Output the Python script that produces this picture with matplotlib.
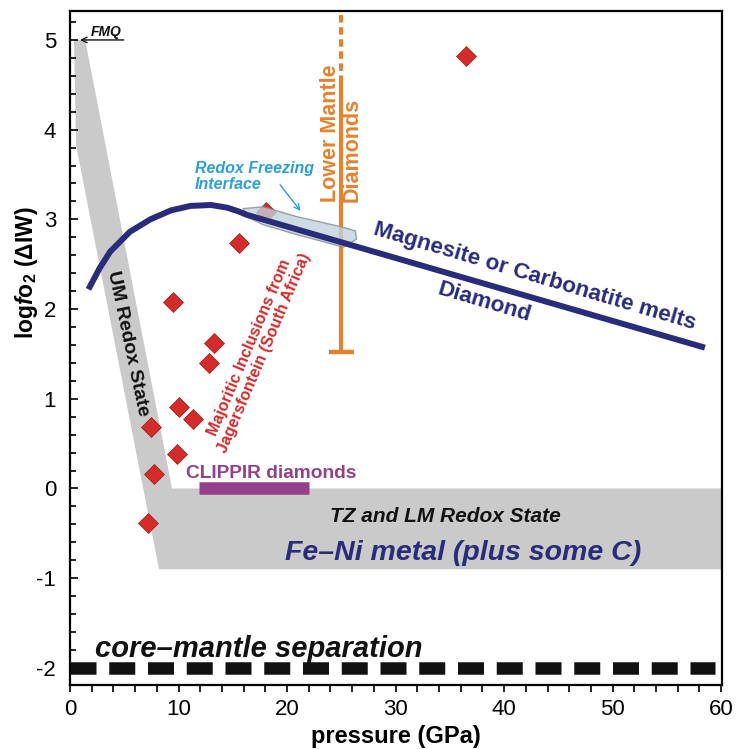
import matplotlib.pyplot as plt
from matplotlib.ticker import MultipleLocator

plt.rcParams['font.family'] = ['Liberation Sans', 'DejaVu Sans']
plt.rcParams['axes.unicode_minus'] = False
plt.rcParams['mathtext.fontset'] = 'custom'
plt.rcParams['mathtext.rm'] = 'Liberation Sans:bold'
plt.rcParams['mathtext.it'] = 'Liberation Sans:bold:italic'
plt.rcParams['mathtext.bf'] = 'Liberation Sans:bold'

# redox state field (UM band + TZ/LM band)
band_p = [0.37, 1.4, 9.4, 60.0, 60.0, 8.2, 0.55]
band_fo2 = [5.0, 5.0, 0.0, 0.0, -0.9, -0.9, 3.83]

# magnesite / carbonatite melt - diamond boundary
melt_p = [1.7, 2.7, 3.7, 5.5, 7.4, 9.3, 11.1, 13.0, 14.5, 15.5, 16.3, 58.5]
melt_fo2 = [2.22, 2.45, 2.64, 2.86, 3.00, 3.10, 3.15, 3.16, 3.13, 3.09, 3.05, 1.57]

# redox freezing interface outline
rfi_p = [15.95, 17.8, 20.9, 24.9, 26.3, 26.4, 25.2, 20.9, 17.8, 16.3]
rfi_fo2 = [3.12, 3.14, 3.03, 2.92, 2.87, 2.78, 2.69, 2.83, 2.94, 3.03]

# majoritic inclusions from Jagersfontein
maj_p = [36.5, 18.1, 15.6, 9.5, 13.3, 12.8, 10.0, 11.3, 7.5, 9.9, 7.7, 7.2]
maj_fo2 = [4.82, 3.08, 2.74, 2.08, 1.62, 1.40, 0.91, 0.78, 0.69, 0.39, 0.16, -0.38]

# lower mantle diamonds range
lmd_p = 25.0
lmd_solid = (1.52, 4.52)
lmd_dashed = (4.52, 5.28)

# CLIPPIR diamonds range
clippir_p = (11.9, 22.0)
clippir_fo2 = 0.0

# core-mantle separation
cms_p = (0.0, 59.4)
cms_fo2 = -2.0

navy = '#282c7a'
orange = '#e8812f'
red = '#d42b2b'
purple = '#95408a'
cyan = '#2a9fd8'

fig = plt.figure(figsize=(7.37, 7.49), dpi=100)
ax = fig.add_axes([0.095, 0.0855, 0.885, 0.8995])

ax.fill(band_p, band_fo2, color='#cacaca', lw=0, zorder=1)

ax.plot(cms_p, [cms_fo2, cms_fo2], color='#111111', lw=9,
        ls=(0, (2.08, 1.02)), solid_capstyle='butt', dash_capstyle='butt', zorder=2)

ax.plot([lmd_p, lmd_p], lmd_solid, color=orange, lw=3, solid_capstyle='butt', zorder=2)
ax.plot([lmd_p, lmd_p], lmd_dashed, color=orange, lw=3, ls=(0, (1.8, 1.1)),
        dash_capstyle='butt', zorder=2)
ax.plot([lmd_p - 1.15, lmd_p + 1.15], [lmd_solid[0], lmd_solid[0]], color=orange,
        lw=3.2, solid_capstyle='butt', zorder=2)

ax.plot(clippir_p, [clippir_fo2, clippir_fo2], color=purple, lw=9,
        solid_capstyle='butt', zorder=2)

ax.plot(maj_p, maj_fo2, ls='none', marker='D', ms=10.5, color=red,
        mec='#9a1c1c', mew=0.5, zorder=3)

ax.fill(rfi_p, rfi_fo2, facecolor='#c3d2dc', edgecolor='#868e94', lw=1,
        alpha=0.8, zorder=4)

ax.plot(melt_p, melt_fo2, color=navy, lw=4.3, solid_joinstyle='round',
        solid_capstyle='butt', zorder=5)

# labels
ax.text(27.9, 2.83, 'Magnesite or Carbonatite melts', color=navy, fontsize=16.2,
        fontweight='bold', rotation=-16.5, rotation_mode='anchor',
        ha='left', va='baseline', zorder=6)
ax.text(38.2, 2.08, 'Diamond', color=navy, fontsize=16.2, fontweight='bold',
        rotation=-16.5, rotation_mode='anchor', ha='center', va='center', zorder=6)

ax.text(lmd_p, 3.19, 'Lower Mantle\nDiamonds', color=orange, fontsize=15.5,
        fontweight='bold', rotation=90, ha='center', va='bottom',
        multialignment='left', linespacing=1.0, zorder=6)

ax.text(11.5, 3.48, 'Redox Freezing\nInterface', color=cyan, fontsize=11.5,
        fontweight='bold', style='italic', ha='left', va='center',
        linespacing=1.05, zorder=6)
ax.annotate('', xy=(21.4, 3.07), xytext=(19.2, 3.41),
            arrowprops=dict(arrowstyle='->', color=cyan, lw=1), zorder=6)

ax.text(17.2, 1.54, 'Majoritic Inclusions from\nJagersfontein (South Africa)',
        color=red, fontsize=11.5, fontweight='bold', rotation=67, ha='center',
        va='center', multialignment='center', linespacing=1.05,
        rotation_mode='anchor', zorder=6)

ax.text(5.3, 1.62, 'UM Redox State', color='#111111', fontsize=14,
        fontweight='bold', rotation=-78, rotation_mode='anchor',
        ha='center', va='center', zorder=6)

ax.text(10.7, 0.17, 'CLIPPIR diamonds', color=purple, fontsize=13.8,
        fontweight='bold', ha='left', va='center', zorder=6)

ax.text(34.6, -0.31, 'TZ and LM Redox State', color='#111111', fontsize=15,
        fontweight='bold', style='italic', ha='center', va='center', zorder=6)
ax.text(36.2, -0.72, 'Fe\u2013Ni metal (plus some C)', color=navy, fontsize=20.5,
        fontweight='bold', style='italic', ha='center', va='center', zorder=6)

ax.text(2.3, -1.88, 'core\u2013mantle separation', color='#111111', fontsize=21,
        fontweight='bold', style='italic', ha='left', va='baseline', zorder=6)

ax.annotate('', xy=(0.92, 5.0), xytext=(4.95, 5.0),
            arrowprops=dict(arrowstyle='->', color='#111111', lw=1,
                            shrinkA=0, shrinkB=0), zorder=6)
ax.text(3.3, 5.01, 'FMQ', color='#111111', fontsize=10, fontweight='bold',
        style='italic', ha='center', va='bottom', zorder=6)

# axes
ax.set_xlim(0, 60.1)
ax.set_ylim(-2.19, 5.32)
ax.set_xticks(range(0, 61, 10))
ax.set_yticks(range(-2, 6))
ax.xaxis.set_minor_locator(MultipleLocator(2))
ax.yaxis.set_minor_locator(MultipleLocator(0.2))
ax.tick_params(axis='x', which='both', direction='out', length=5, width=1.2,
               labelsize=16, pad=5)
ax.tick_params(axis='y', which='major', direction='in', length=6, width=1.2,
               labelsize=16, pad=10)
ax.tick_params(axis='y', which='minor', direction='in', length=4, width=1.2)
for s in ax.spines.values():
    s.set_linewidth(1.6)

ax.set_xlabel('pressure (GPa)', fontsize=17, fontweight='bold', labelpad=4)
ax.set_ylabel(r'log$\it{f}$o$_\mathrm{2}$ (ΔIW)', fontsize=16.5, fontweight='bold')
ax.yaxis.set_label_coords(-0.046, 0.6125)

fig.savefig('out.png', dpi=100)
